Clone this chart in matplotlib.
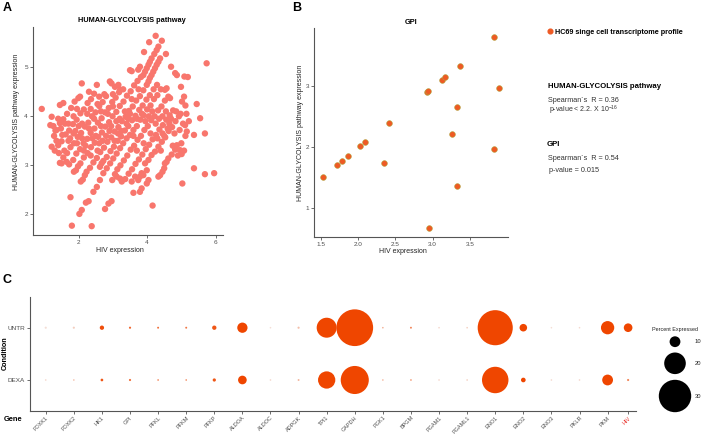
import numpy as np
import matplotlib as mpl
mpl.use('Agg')
from matplotlib import pyplot as plt
from matplotlib.colors import LinearSegmentedColormap
from matplotlib.lines import Line2D

plt.rcParams['font.family'] = ['Liberation Sans', 'DejaVu Sans']
plt.rcParams['mathtext.fontset'] = 'custom'
plt.rcParams['mathtext.rm'] = 'Liberation Sans'
plt.rcParams['mathtext.it'] = 'Liberation Sans:italic'

# ---- panel A: single cells, HIV vs glycolysis pathway score
cells_a = [
    (0.92, 4.15), (1.17, 3.82), (1.21, 3.99), (1.26, 3.80), (1.21, 3.38), (1.28, 3.60),
    (1.35, 3.50), (1.35, 3.72), (1.40, 3.95), (1.45, 4.23), (1.55, 4.27), (1.50, 3.04),
    (1.65, 3.07), (1.84, 3.11), (1.52, 3.62), (1.60, 3.85), (1.99, 4.37), (2.04, 4.40),
    (1.76, 2.35), (1.80, 1.77), (2.38, 1.76), (1.42, 3.25), (1.58, 3.30), (1.48, 3.75),
    (1.32, 3.71), (1.45, 3.86), (1.55, 3.94), (1.66, 4.05), (1.78, 4.17), (1.88, 4.30),
    (1.30, 3.30), (1.40, 3.41), (1.50, 3.49), (1.62, 3.63), (1.72, 3.71), (1.83, 3.84),
    (1.94, 3.93), (2.05, 4.06), (2.15, 4.14), (2.26, 4.27), (2.36, 4.35), (2.45, 4.46),
    (1.45, 3.05), (1.55, 3.16), (1.66, 3.25), (1.76, 3.37), (1.86, 3.45), (1.97, 3.58),
    (2.07, 3.66), (2.18, 3.79), (2.28, 3.87), (2.39, 4.00), (2.49, 4.08), (2.60, 4.21),
    (2.70, 4.29), (2.80, 4.41),
    (1.72, 3.02), (1.93, 3.24), (2.04, 3.33), (2.14, 3.45), (2.25, 3.54), (2.35, 3.66),
    (2.46, 3.75), (2.56, 3.87), (2.67, 3.96), (2.77, 4.08), (2.88, 4.17), (2.98, 4.29),
    (3.08, 4.38), (3.18, 4.49),
    (1.86, 2.87), (1.92, 2.90), (1.98, 2.98), (2.05, 3.04), (2.15, 3.16), (2.26, 3.25),
    (2.36, 3.37), (2.47, 3.46), (2.57, 3.58), (2.68, 3.67), (2.78, 3.79), (2.89, 3.88),
    (2.99, 4.00), (3.10, 4.09), (3.20, 4.21), (3.31, 4.30), (3.41, 4.42), (3.52, 4.51),
    (3.62, 4.63), (3.72, 4.72), (3.82, 4.80), (3.89, 4.84), (3.94, 4.91), (3.99, 4.98),
    (4.04, 5.05), (4.08, 5.11), (4.13, 5.18), (4.21, 5.27), (4.28, 5.35), (4.33, 5.42),
    (4.43, 5.54),
    (2.09, 4.67), (2.53, 4.64), (2.91, 4.71), (2.96, 4.67), (3.06, 4.60), (3.16, 4.64),
    (3.21, 4.54), (3.50, 4.94), (3.55, 4.92), (3.74, 4.95), (3.79, 5.01), (3.91, 5.31),
    (4.06, 5.51), (4.25, 5.64),
    (2.06, 2.67), (2.12, 2.71), (2.18, 2.80), (2.23, 2.87), (2.33, 2.95), (2.43, 3.06),
    (2.53, 3.15), (2.63, 3.27), (2.74, 3.36), (2.84, 3.48), (2.95, 3.57), (3.05, 3.69),
    (3.16, 3.78), (3.26, 3.90), (3.37, 3.99), (3.47, 4.11), (3.58, 4.20), (3.68, 4.32),
    (3.79, 4.41), (3.89, 4.53), (3.99, 4.64), (4.04, 4.71), (4.08, 4.78), (4.13, 4.84),
    (4.18, 4.91), (4.23, 4.98), (4.28, 5.05), (4.33, 5.11), (4.38, 5.18),
    (2.62, 2.97), (2.67, 3.04), (2.72, 3.09), (2.82, 3.17), (2.93, 3.29), (3.03, 3.38),
    (3.14, 3.50), (3.24, 3.59), (3.35, 3.71), (3.45, 3.80), (3.56, 3.92), (3.66, 4.01),
    (3.77, 4.13), (3.87, 4.22), (3.98, 4.34), (4.08, 4.43), (4.19, 4.55), (4.29, 4.64),
    (2.02, 2.01), (2.09, 2.09), (2.21, 2.24), (2.29, 2.27), (2.43, 2.46), (2.53, 2.56),
    (2.62, 2.70), (2.72, 2.84), (2.82, 2.94), (2.92, 3.04), (3.01, 3.14), (3.11, 3.24),
    (3.21, 3.35), (3.30, 3.45), (3.40, 3.55), (3.50, 3.62), (3.60, 3.72), (3.70, 3.80),
    (3.80, 3.93), (3.90, 4.02), (4.00, 4.14), (4.10, 4.22), (4.20, 4.35), (4.30, 4.43),
    (4.40, 4.55),
    (2.98, 2.70), (3.06, 2.82), (3.13, 2.92), (3.22, 3.00), (3.32, 3.10), (3.42, 3.20),
    (3.52, 3.32), (3.62, 3.40), (3.72, 3.52), (3.82, 3.60), (3.92, 3.72), (4.02, 3.80),
    (4.12, 3.92), (4.22, 4.00), (4.32, 4.12), (4.42, 4.20), (4.52, 4.32), (4.62, 4.40),
    (2.77, 2.11), (2.87, 2.22), (2.96, 2.27), (3.21, 2.73), (3.26, 2.67), (3.36, 2.72),
    (3.46, 2.83), (3.56, 2.92), (3.66, 3.03), (3.76, 3.12), (3.86, 3.22), (3.96, 3.33),
    (4.06, 3.42), (4.16, 3.53), (4.26, 3.62), (4.36, 3.73), (4.46, 3.82), (4.56, 3.93),
    (4.66, 4.02), (4.76, 4.12),
    (3.74, 2.70), (3.79, 2.77), (3.84, 2.84), (3.94, 3.04), (4.04, 3.11), (4.13, 3.21),
    (4.23, 3.28), (4.33, 3.38), (4.43, 3.48), (4.53, 3.57), (4.63, 3.70), (4.73, 3.78),
    (4.83, 3.90), (4.93, 4.00),
    (3.60, 2.44), (3.79, 2.46), (3.84, 2.53), (3.99, 2.63), (4.04, 2.70),
    (4.33, 2.77), (4.38, 2.80), (4.45, 2.87), (4.50, 2.94), (4.52, 3.04), (4.57, 3.07),
    (4.62, 3.14), (4.72, 3.22), (4.82, 3.32), (4.87, 3.41), (4.96, 3.31), (5.01, 3.23),
    (4.16, 2.18), (5.03, 2.63), (5.37, 2.94), (5.69, 2.82), (5.96, 2.84), (5.37, 3.62),
    (5.69, 3.65), (4.70, 5.01), (4.82, 4.88), (4.87, 4.84), (5.09, 4.81), (5.19, 4.80),
    (4.99, 4.60), (5.45, 4.25), (5.74, 5.08), (5.55, 3.96), (5.11, 3.82), (5.16, 3.69),
    (4.67, 4.37), (4.52, 4.54), (4.57, 4.57), (4.55, 5.27), (5.02, 4.30), (5.08, 4.40),
    (5.12, 4.22), (4.98, 4.05), (5.15, 4.05), (5.22, 3.90), (5.05, 3.85), (4.95, 3.72),
    (5.12, 3.60), (5.00, 3.45), (5.08, 3.30), (4.90, 3.20), (4.45, 4.00), (4.60, 3.75),
    (4.70, 3.95), (4.85, 4.10), (4.50, 3.60), (4.40, 3.30), (4.75, 3.40),
    (2.30, 4.50), (2.60, 4.40), (2.75, 4.45), (3.30, 4.55), (3.00, 4.45),
    (3.11, 2.77), (3.55, 2.67), (3.65, 2.77), (3.89, 2.80), (3.99, 2.90),
    (1.70, 3.50), (1.90, 3.70), (2.10, 3.85), (2.20, 3.40), (2.40, 3.55), (2.55, 3.30),
    (2.70, 3.50), (2.90, 3.70), (3.10, 3.90), (3.35, 4.10), (3.55, 4.35), (3.75, 4.55),
    (1.95, 4.15), (2.25, 4.05), (2.55, 4.25), (2.85, 4.05), (3.25, 3.70), (3.45, 3.95),
    (1.75, 3.55), (1.85, 3.65), (2.00, 3.80), (2.10, 3.55), (2.30, 3.75), (2.45, 3.95),
    (2.50, 3.60), (2.65, 3.80), (2.60, 3.45), (2.80, 3.60), (2.95, 3.80), (3.05, 3.50),
    (3.15, 3.65), (3.20, 3.95), (3.40, 3.85), (3.50, 4.05), (3.60, 3.60), (3.70, 3.95),
    (3.85, 4.05), (3.95, 3.90), (4.05, 4.00), (4.15, 4.10), (4.25, 3.85), (4.35, 3.95),
    (4.45, 3.65), (4.55, 4.10), (4.65, 3.85), (4.80, 3.65), (4.30, 3.55), (4.10, 3.65),
    (3.90, 3.45), (3.70, 3.30), (2.35, 3.20), (2.15, 3.30), (1.95, 3.45), (1.70, 3.85),
    (1.85, 4.00), (2.35, 4.15), (2.65, 4.10), (3.00, 4.20),
]

# ---- panel B: GPI vs pathway
hiv_b = [1.53, 1.72, 1.79, 1.87, 2.03, 2.10, 2.35, 2.42, 2.92, 2.94,
         2.95, 3.13, 3.17, 3.26, 3.33, 3.33, 3.36, 3.82, 3.89, 3.82]
glyco_b = [1.51, 1.71, 1.78, 1.86, 2.02, 2.09, 1.74, 2.40, 2.90, 2.92,
           0.68, 3.11, 3.15, 2.22, 2.66, 1.37, 3.34, 3.81, 2.97, 1.97]

# ---- panel C: dot plot
genes = ['FOXK1', 'FOXK2', 'HK1', 'GPI', 'PFKL', 'PFKM', 'PFKP', 'ALDOA', 'ALDOC',
         'ADPGK', 'TPI1', 'GAPDH', 'PGK1', 'BPGM', 'PGAM1', 'PGAML1', 'ENO1', 'ENO2',
         'ENO3', 'PKLR', 'PKM', 'HIV']
conditions = ['DEXA', 'UNTR']
pct_untr = [2, 2, 4, 2, 1.8, 1.8, 4, 9.5, 1.5, 2, 18.5, 34, 1.5, 1.8, 1.5, 1.5,
            32.5, 7, 1.5, 1.5, 12.3, 8]
pct_dexa = [1.5, 1.5, 2.5, 2, 1.5, 1.5, 3, 8, 1.5, 1.8, 16, 26, 1.5, 1.5, 1.5, 1.5,
            24.5, 4.3, 1.5, 1.5, 10, 2]
avg_untr = [0.05, 0.15, 0.95, 0.8, 0.75, 0.7, 0.9, 1, 0.05, 0.25, 1, 1, 0.35, 0.6,
            0.1, 0.15, 1, 1, 0.05, 0.08, 1, 1]
avg_dexa = [0.1, 0.25, 0.9, 0.75, 0.65, 0.6, 0.9, 1, 0.1, 0.3, 1, 1, 0.3, 0.55,
            0.1, 0.15, 1, 1, 0.08, 0.1, 1, 0.6]
legend_pct = [10, 20, 30]

W, H = 709, 434


def box(l, t, r, b):
    return [l / W, 1 - b / H, (r - l) / W, (b - t) / H]


def ftext(x, y, s, **kw):
    return fig.text(x / W, 1 - y / H, s, **kw)


def classic(ax):
    for s in ['top', 'right']:
        ax.spines[s].set_visible(False)
    for s in ['left', 'bottom']:
        ax.spines[s].set_color('#555555')
        ax.spines[s].set_linewidth(0.8)
    ax.tick_params(length=2, width=0.6, color='#555555', labelsize=4.6,
                   labelcolor='#4d4d4d', pad=1.5)


def dot_size(p):
    # radius scaled: diameter ~1.08 px per percent at 100 dpi
    return (0.7776 * np.asarray(p, dtype=float)) ** 2


fig = plt.figure(figsize=(7.09, 4.34), dpi=100)

# Panel A
ax_a = fig.add_axes(box(32.7, 27, 222.7, 235))
xa = [c[0] for c in cells_a]
ya = [c[1] for c in cells_a]
ax_a.scatter(xa, ya, s=21, c='#F8766D', edgecolors='none')
ax_a.set_xlim(0.655, 6.21)
ax_a.set_ylim(1.58, 5.82)
ax_a.set_xticks([2, 4, 6])
ax_a.set_yticks([2, 3, 4, 5])
classic(ax_a)
ftext(132, 20, 'HUMAN-GLYCOLYSIS pathway', fontsize=5.3, fontweight='bold',
      ha='center', va='center')
ftext(120, 251, 'HIV expression', fontsize=5.0, ha='center', va='center', color='#222222')
ftext(16.5, 122, 'HUMAN-GLYCOLYSIS pathway expression', fontsize=5.0, rotation=90,
      ha='center', va='center', color='#222222')

# Panel B
ax_b = fig.add_axes(box(314, 28, 508, 237.3))
ax_b.scatter(hiv_b, glyco_b, s=17, c='#EE5A24', edgecolors='#B3A23E', linewidths=0.4)
ax_b.set_xlim(1.41, 4.01)
ax_b.set_ylim(0.52, 3.96)
ax_b.set_xticks([1.5, 2.0, 2.5, 3.0, 3.5])
ax_b.set_yticks([1, 2, 3])
classic(ax_b)
ftext(411, 22, 'GPI', fontsize=5.3, fontweight='bold', ha='center', va='center')
ftext(403, 251.5, 'HIV expression', fontsize=5.0, ha='center', va='center', color='#222222')
ftext(300.5, 132.5, 'HUMAN-GLYCOLYSIS pathway expression', fontsize=5.0, rotation=90,
      ha='center', va='center', color='#222222')

# right-hand annotations
fig.legend(handles=[Line2D([], [], marker='o', ls='none', color='#EE5A24', markersize=3.4)],
           labels=['HC69 singe cell transcriptome profile'], loc='center left',
           bbox_to_anchor=(546 / W, 1 - 32 / H), frameon=False,
           prop={'weight': 'bold', 'size': 5.2}, handletextpad=0.2, handlelength=1,
           borderpad=0, borderaxespad=0)
ftext(548, 87, 'HUMAN-GLYCOLYSIS pathway', fontsize=5.6, fontweight='bold', va='center')
ftext(548, 100.7, 'Spearman\u00b4s  R = 0.36', fontsize=5.2, va='center', color='#333333')
ftext(549, 110.5, 'p-value < 2.2. X 10$^{-16}$', fontsize=5.0, va='center', color='#333333')
ftext(547, 144.3, 'GPI', fontsize=5.6, fontweight='bold', va='center')
ftext(548, 158.3, 'Spearman\u00b4s  R = 0.54', fontsize=5.2, va='center', color='#333333')
ftext(549, 171, 'p-value = 0.015', fontsize=5.2, va='center', color='#333333')

# Panel C
ax_c = fig.add_axes(box(30, 296.7, 635.7, 411))
xpos = np.arange(len(genes), dtype=float)
xpos[-1] -= 0.27
cmap = LinearSegmentedColormap.from_list('expr', ['#F4E6E1', '#EF4600'])
ax_c.scatter(xpos, np.ones(len(genes)), s=dot_size(pct_untr), c=avg_untr, cmap=cmap,
             vmin=0, vmax=1, edgecolors='none')
ax_c.scatter(xpos, np.zeros(len(genes)), s=dot_size(pct_dexa), c=avg_dexa, cmap=cmap,
             vmin=0, vmax=1, edgecolors='none')
ax_c.set_xlim(-0.56, 21.0)
ax_c.set_ylim(-0.593, 1.593)
ax_c.set_yticks([0, 1])
ax_c.set_yticklabels(conditions)
ax_c.set_xticks(xpos)
ax_c.set_xticklabels(genes, rotation=45, ha='right', rotation_mode='anchor')
classic(ax_c)
ax_c.tick_params(axis='x', labelsize=4.0, pad=1.0)
ax_c.get_xticklabels()[-1].set_color('#E8302A')
ftext(13.5, 419.5, 'Gene', fontsize=5.4, fontweight='bold', ha='center', va='center')
ftext(5.5, 353, 'Condition', fontsize=5.2, fontweight='bold', rotation=90,
      ha='center', va='center')

# size legend drawn in its own pixel-space axes
ax_l = fig.add_axes(box(645, 318, 709, 420))
ax_l.set_xlim(645, 709)
ax_l.set_ylim(420, 318)
ax_l.axis('off')
leg_y = [341.7, 363.3, 396.0]
ax_l.scatter([675] * len(legend_pct), leg_y, s=dot_size(legend_pct), c='black',
             edgecolors='none', clip_on=False)
for p, yy in zip(legend_pct, leg_y):
    ax_l.text(698, yy, str(p), fontsize=4.2, ha='center', va='center', color='#222222')
ax_l.text(675, 329, 'Percent Expressed', fontsize=3.9, ha='center', va='center',
          color='#222222')

# panel letters
ftext(7.5, 8, 'A', fontsize=9, fontweight='bold', ha='center', va='center')
ftext(296.7, 8, 'B', fontsize=9, fontweight='bold', ha='center', va='center')
ftext(7.5, 280, 'C', fontsize=9, fontweight='bold', ha='center', va='center')

fig.savefig('out.png', dpi=100)
